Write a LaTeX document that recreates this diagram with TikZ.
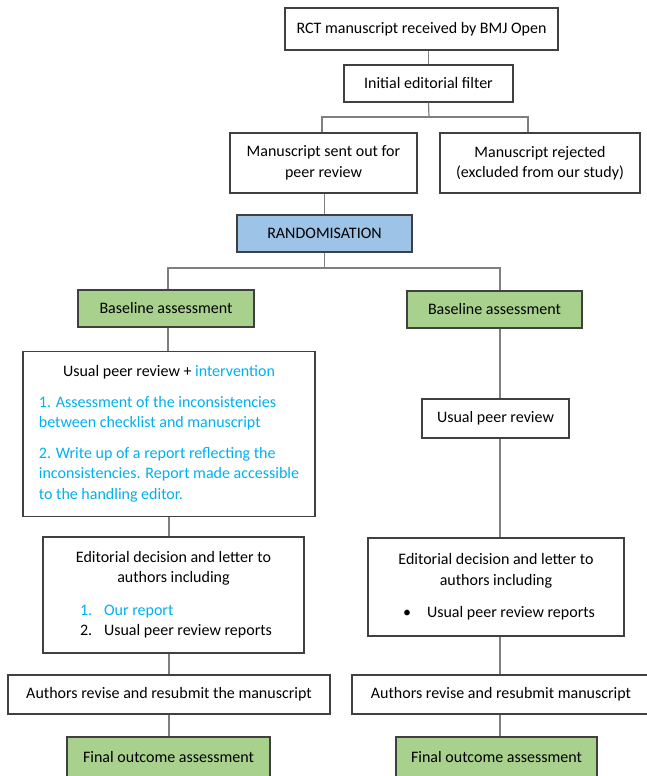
\documentclass[tikz,border=0pt]{standalone}
\usepackage{fontspec}
\setmainfont{Carlito}
\definecolor{cyanT}{HTML}{00B0F0}
\definecolor{randblue}{HTML}{9DC3E6}
\definecolor{basegreen}{HTML}{A9D18E}
\definecolor{boxc}{HTML}{404040}
\definecolor{linec}{HTML}{7F7F7F}
\newcommand\diagfont{\fontsize{16}{20.5}\selectfont}
\begin{document}
\begin{tikzpicture}[x=1pt,y=-1pt,
  boxbase/.style={draw=boxc, line width=1.1pt, fill=white, inner sep=0pt, font=\diagfont},
  box/.style={boxbase, align=center},
  conn/.style={draw=linec, line width=1.2pt}]
\useasboundingbox (0,0) rectangle (646,776);
\fill[white] (0,0) rectangle (646,776);

\node[box, minimum width=273pt, minimum height=42pt] (n1) at (421.5,29) {RCT manuscript received by BMJ Open};
\node[box, minimum width=169pt, minimum height=37pt] (n2) at (428.5,83.5) {Initial editorial filter};
\node[box, minimum width=187pt, minimum height=60pt] (n3) at (323.5,163) {Manuscript sent out for\\peer review};
\node[box, minimum width=200pt, minimum height=60pt] (n4) at (540,163) {Manuscript rejected\\(excluded from our study)};
\node[box, fill=randblue, minimum width=175pt, minimum height=37pt] (rand) at (324.5,233.5) {RANDOMISATION};

\node[box, fill=basegreen, minimum width=176pt, minimum height=37pt] (bl) at (166,308.5) {Baseline assessment};
\node[box, fill=basegreen, minimum width=175pt, minimum height=37pt] (br) at (494.5,309.5) {Baseline assessment};

\node[boxbase, minimum width=292pt, minimum height=165pt] (iv) at (169,434)
 {\begin{tabular}{@{}l@{}}
  \multicolumn{1}{@{}c@{}}{Usual peer review + \textcolor{cyanT}{intervention}}\\[10pt]
  \color{cyanT}1. Assessment of the inconsistencies\\
  \color{cyanT}between checklist and manuscript\\[10pt]
  \color{cyanT}2. Write up of a report reflecting the\\
  \color{cyanT}inconsistencies. Report made accessible\\
  \color{cyanT}to the handling editor.
  \end{tabular}};

\node[box, minimum width=147pt, minimum height=39pt] (upr) at (495.5,418.5) {Usual peer review};

\node[boxbase, minimum width=261pt, minimum height=116pt] (edl) at (173.5,595)
 {\begin{tabular}{@{}l@{}}
  \multicolumn{1}{@{}c@{}}{Editorial decision and letter to}\\
  \multicolumn{1}{@{}c@{}}{authors including}\\[12pt]
  \hspace{5pt}\makebox[24pt][l]{\textcolor{cyanT}{1.}}\textcolor{cyanT}{Our report}\\
  \hspace{5pt}\makebox[24pt][l]{2.}Usual peer review reports
  \end{tabular}};

\node[boxbase, minimum width=256pt, minimum height=98pt] (edr) at (496,587)
 {\begin{tabular}{@{}l@{}}
  \multicolumn{1}{@{}c@{}}{Editorial decision and letter to}\\
  \multicolumn{1}{@{}c@{}}{authors including}\\[12pt]
  \hspace{6pt}\makebox[24pt][l]{\textbullet}Usual peer review reports
  \end{tabular}};

\node[box, minimum width=322pt, minimum height=39pt] (arl) at (169,694.5) {Authors revise and resubmit the manuscript};
\node[box, minimum width=298pt, minimum height=39pt] (arr) at (501,694.5) {Authors revise and resubmit manuscript};

\node[box, fill=basegreen, minimum width=203pt, minimum height=40pt] (fol) at (168.5,757) {Final outcome assessment};
\node[box, fill=basegreen, minimum width=201pt, minimum height=40pt] (for) at (496.5,757) {Final outcome assessment};

\coordinate (b1m) at (429,117);
\coordinate (b1l) at (322,117);
\coordinate (b1r) at (528,117);
\coordinate (b2l) at (168,268);
\coordinate (b2r) at (500,268);

\draw[conn] (n2.north |- n1.south) -- (n2.north);
\draw[conn] (n2.south) -- (b1m);
\draw[conn] (b1l |- n3.north) -- (b1l) -- (b1r) -- (b1r |- n4.north);
\draw[conn] (rand.north |- n3.south) -- (rand.north);
\draw[conn] (rand.south) -- (rand.south |- b2l);
\draw[conn] (b2l |- bl.north) -- (b2l) -- (b2r) -- (b2r |- br.north);

\draw[conn] (b2l |- bl.south) -- (b2l |- iv.north);
\draw[conn] (iv.south) -- (iv.south |- edl.north);
\draw[conn] (iv.south |- edl.south) -- (iv.south |- arl.north);
\draw[conn] (iv.south |- arl.south) -- (iv.south |- fol.north);

\draw[conn] (b2r |- br.south) -- (b2r |- upr.north);
\draw[conn] (b2r |- upr.south) -- (b2r |- edr.north);
\draw[conn] (b2r |- edr.south) -- (b2r |- arr.north);
\draw[conn] (b2r |- arr.south) -- (b2r |- for.north);
\end{tikzpicture}
\end{document}
